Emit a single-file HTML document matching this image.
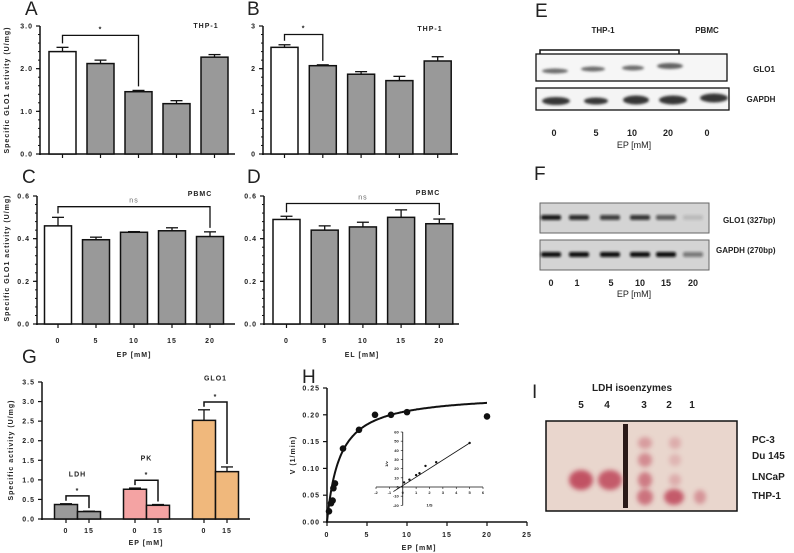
<!DOCTYPE html>
<html><head><meta charset="utf-8">
<style>
html,body{margin:0;padding:0;background:#fff;}
svg{display:block;font-family:"Liberation Sans",sans-serif;}
.t{font-size:7px;font-weight:bold;letter-spacing:1px;fill:#222;}
.pl{font-size:19px;fill:#222;}
.lb{font-size:8px;font-weight:bold;fill:#222;}
</style></head>
<body>
<svg id="fig" width="794" height="553" viewBox="0 0 794 553" xmlns="http://www.w3.org/2000/svg">
<defs>
<filter id="blur1" x="-30%" y="-50%" width="160%" height="200%"><feGaussianBlur stdDeviation="1.2"/></filter>
<filter id="blur2" x="-30%" y="-50%" width="160%" height="200%"><feGaussianBlur stdDeviation="2.5"/></filter>
</defs>
</svg>
<script>
// ---- data ----
const aValues=[2.4,2.12,1.46,1.18,2.27];
const aErrors=[0.1,0.08,0.03,0.07,0.06];
const bValues=[2.5,2.07,1.87,1.72,2.18];
const bErrors=[0.06,0.02,0.06,0.1,0.1];
const cValues=[0.46,0.395,0.43,0.437,0.41];
const cErrors=[0.04,0.012,0.003,0.014,0.022];
const dValues=[0.49,0.44,0.455,0.5,0.47];
const dErrors=[0.015,0.02,0.022,0.035,0.022];
const doseLabels=["0","5","10","15","20"];
const gGroups=["LDH","PK","GLO1"];
const gValues=[0.37,0.19,0.76,0.35,2.52,1.21];
const gErrors=[0.02,0.01,0.03,0.02,0.27,0.12];
const hX=[0.25,0.5,0.7,0.8,1,2,4,6,8,10,20];
const hY=[0.02,0.035,0.04,0.063,0.072,0.137,0.172,0.2,0.2,0.205,0.197];
const hFit=[0.24,1.6]; // Vmax, Km
const insetX=[0.1,0.5,1,1.25,1.7,2.5,5];
const insetY=[5,8,13,15,23,27,48];

const S=document.getElementById('fig');
const NS='http://www.w3.org/2000/svg';
function el(tag,at,parent){const e=document.createElementNS(NS,tag);for(const k in at)e.setAttribute(k,at[k]);(parent||S).appendChild(e);return e;}
function txt(x,y,s,cls,anchor,extra){const e=el('text',Object.assign({x:x,y:y,class:cls||'t','text-anchor':anchor||'middle'},extra||{}));e.textContent=s;return e;}
function lin(x1,y1,x2,y2,w,parent){return el('line',{x1,y1,x2,y2,stroke:'#111','stroke-width':w||1.5},parent);}

function barPanel(o){
  const g=el('g',{});
  
  
  const y=v=>o.y0-(v/o.max)*(o.y0-o.y1);
  lin(o.x0,o.y1,o.x0,o.y0+1,1.5,g);
  lin(o.x0-1,o.y0,o.xEnd,o.y0,1.5,g);
  o.ticks.forEach(t=>{lin(o.x0-4,y(t),o.x0,y(t),1.2,g);txt(o.x0-7,y(t)+2.5,o.tickFmt(t),'t','end');});
  for(let i=0;i<o.minor;i++){const v=o.max*i/o.minor;lin(o.x0-2,y(v),o.x0,y(v),1,g);}
  o.values.forEach((v,i)=>{
    const cx=o.cx0+i*o.step;
    const r=el('rect',{x:cx-13.5,y:y(v),width:27,height:o.y0-y(v),fill:i==0?'#fff':'#999',stroke:'#111','stroke-width':1.5},g);
    
    
    lin(cx,y(v),cx,y(v+o.errors[i]),1.3,g);
    lin(cx-6,y(v+o.errors[i]),cx+6,y(v+o.errors[i]),1.3,g);
    lin(cx,o.y0,cx,o.y0+4,1.2,g);
    if(o.xlabels) txt(cx,o.y0+19,o.xlabels[i]);
  });
  const b=o.bracket, bx1=o.cx0+b[0]*o.step, bx2=o.cx0+b[1]*o.step, by=y(b[2]);
  el('polyline',{points:`${bx1},${y(o.values[b[0]]+o.errors[b[0]])-4} ${bx1},${by} ${bx2},${by} ${bx2},${y(o.values[b[1]]+o.errors[b[1]])-4}`,fill:'none',stroke:'#111','stroke-width':1.3},g);
  txt((bx1+bx2)/2,by-4,b[3],'t','middle',{style:b[3]=='ns'?'font-weight:normal;fill:#666':''});
  txt(o.tagX,o.tagY,o.tag);
  return g;
}
barPanel({name:'panel-a',x0:40,xEnd:235,y0:154,y1:26,max:3,ticks:[0,1,2,3],tickFmt:t=>t.toFixed(1),minor:15,cx0:62.5,step:38,values:aValues,errors:aErrors,bracket:[0,2,2.78,'*'],tag:'THP-1',tagX:206,tagY:28});
barPanel({name:'panel-b',x0:263,xEnd:458,y0:154,y1:26,max:3,ticks:[0,1,2,3],tickFmt:t=>t.toFixed(0),minor:15,cx0:284.5,step:38.3,values:bValues,errors:bErrors,bracket:[0,1,2.8,'*'],tag:'THP-1',tagX:430,tagY:31});
barPanel({name:'panel-c',x0:37,xEnd:235,y0:324,y1:196,max:0.6,ticks:[0,0.2,0.4,0.6],tickFmt:t=>t.toFixed(1),minor:15,cx0:58,step:38,values:cValues,errors:cErrors,bracket:[0,4,0.55,'ns'],xlabels:doseLabels,tag:'PBMC',tagX:200,tagY:196});
barPanel({name:'panel-d',x0:264,xEnd:459,y0:324,y1:196,max:0.6,ticks:[0,0.2,0.4,0.6],tickFmt:t=>t.toFixed(1),minor:15,cx0:286.5,step:38.2,values:dValues,errors:dErrors,bracket:[0,4,0.565,'ns'],xlabels:doseLabels,tag:'PBMC',tagX:428,tagY:195});
txt(134,357,'EP [mM]');
txt(362,357,'EL [mM]');
txt(9,90,'Specific GLO1 activity (U/mg)','t','middle',{transform:'rotate(-90 9 90)'});
txt(9,258,'Specific GLO1 activity (U/mg)','t','middle',{transform:'rotate(-90 9 258)'});
[['A',25,15],['B',247,15],['C',22,183],['D',247,183],['G',22,363],['H',302,383],['E',535,17],['F',534,180],['I',532,398]].forEach(p=>txt(p[1],p[2],p[0],'pl','start'));

// ---- Panel G ----
(function(){
  const g=el('g',{});
  const x0=42,y0=519,y1=382,max=3.5;const y=v=>y0-(v/max)*(y0-y1);
  lin(x0,y1,x0,y0+1,1.5,g);lin(x0-1,y0,250,y0,1.5,g);
  for(let t=0;t<=3.5001;t+=0.5){lin(x0-4,y(t),x0,y(t),1.2,g);txt(x0-7,y(t)+2.5,t.toFixed(1),'t','end');}
  const cols=['#9a9a9a','#f4a3a3','#f0b87c'];const centers=[66,89,135,158,204,227];
  gValues.forEach((v,i)=>{const cx=centers[i];
    const r=el('rect',{x:cx-11.5,y:y(v),width:23,height:y0-y(v),fill:cols[Math.floor(i/2)],stroke:'#111','stroke-width':1.5},g);
    
    
    lin(cx,y(v),cx,y(v+gErrors[i]),1.3,g);lin(cx-6,y(v+gErrors[i]),cx+6,y(v+gErrors[i]),1.3,g);
    lin(cx,y0,cx,y0+4,1.2,g);txt(cx,y0+14,i%2?'15':'0');
  });
  const lblOff=[0.4,0.4,0.45];
  gGroups.forEach((n,k)=>{const a=centers[2*k],b=centers[2*k+1];const top=gValues[2*k]+gErrors[2*k];const by=y(top+0.2);
    el('polyline',{points:`${a},${y(top)-3} ${a},${by} ${b},${by} ${b},${y(gValues[2*k+1]+gErrors[2*k+1])-3}`,fill:'none',stroke:'#111','stroke-width':1.5},g);
    txt((a+b)/2,by-3,'*');txt((a+b)/2,y(top+lblOff[k]+0.3),n,'t');});
  txt(146,545,'EP [mM]');
  txt(13,450,'Specific activity (U/mg)','t','middle',{transform:'rotate(-90 13 450)'});
})();

// ---- Panel H ----
(function(){
  const g=el('g',{});
  const x0=327,x1=487,y0=522,y1=388;const X=v=>x0+v/20*(x1-x0),Y=v=>y0-v/0.25*(y0-y1);
  lin(x0,y1,x0,y0+1,1.5,g);lin(x0-1,y0,X(25),y0,1.5,g);
  for(let t=0;t<=0.2501;t+=0.05){lin(x0-4,Y(t),x0,Y(t),1.2,g);txt(x0-7,Y(t)+2.5,t.toFixed(2),'t','end');}
  for(let t=0;t<=25;t+=5){lin(X(t),y0,X(t),y0+4,1.2,g);txt(X(t),y0+15,String(t));}
  txt(419,550,'EP [mM]');
  txt(295,455,'V (1/min)','t','middle',{transform:'rotate(-90 295 455)'});
  let d='';for(let i=0;i<=200;i++){const v=i/10;const yy=hFit[0]*v/(hFit[1]+v);d+=(i?'L':'M')+X(v).toFixed(1)+','+Y(yy).toFixed(1);}
  el('path',{d:d,fill:'none',stroke:'#111','stroke-width':2},g);
  hX.forEach((v,i)=>{const c=el('circle',{cx:X(v),cy:Y(hY[i]),r:3.3,fill:'#111'},g);});
  // inset
  const ix=v=>376+(v+2)/8*(483-376), iy=v=>487-v/60*(487-432);
  lin(ix(0),iy(60),ix(0),iy(-20),0.8,g);lin(ix(-2),iy(0),ix(6),iy(0),0.8,g);
  for(let t=-20;t<=60;t+=10){lin(ix(0)-2,iy(t),ix(0),iy(t),0.6,g);txt(ix(0)-4,iy(t)+1.5,String(t),'t','end',{style:'font-size:4px;letter-spacing:0'});}
  for(let t=-2;t<=6;t++){lin(ix(t),iy(0),ix(t),iy(0)+2,0.6,g);txt(ix(t),iy(0)+7,String(t),'t','middle',{style:'font-size:4px;letter-spacing:0'});}
  txt(ix(2),iy(-20)+1,'1/S','t','middle',{style:'font-size:4px;letter-spacing:0'});
  txt(388,iy(25),'1/v','t','middle',{style:'font-size:4px;letter-spacing:0',transform:`rotate(-90 388 ${iy(25)})`});
  lin(ix(-0.7),iy(-5),ix(5),iy(48),0.8,g);
  insetX.forEach((v,i)=>el('circle',{cx:ix(v),cy:iy(insetY[i]),r:1.2,fill:'#111'},g));
})();

// ---- Panel E (western blot) ----
(function(){
  const g=el('g',{});
  txt(603,33,'THP-1','lb');txt(707,33,'PBMC','lb');
  el('polyline',{points:'540,55 540,50 679,50 679,55',fill:'none',stroke:'#111','stroke-width':1.5},g);
  el('rect',{x:536,y:54,width:191,height:27,fill:'#f6f6f6',stroke:'#111','stroke-width':1.3},g);
  el('rect',{x:536,y:88,width:193,height:22,fill:'#f4f4f4',stroke:'#111','stroke-width':1.3},g);
  [[555,71,26,2.5,0.7],[593,69,24,2.5,0.7],[633,68,22,2.5,0.7],[670,66,26,3,0.75]].forEach(b=>el('ellipse',{cx:b[0],cy:b[1],rx:b[2]/2,ry:b[3],fill:'#333',opacity:b[4],filter:'url(#blur1)'},g));
  [[556,101,28,4],[596,101,24,3.5],[636,100,26,4.5],[673,100,28,4.5],[714,98,28,4.5]].forEach(b=>el('ellipse',{cx:b[0],cy:b[1],rx:b[2]/2,ry:b[3],fill:'#222',opacity:0.9,filter:'url(#blur1)'},g));
  txt(764,72,'GLO1','lb');txt(761,102,'GAPDH','lb');
  [['0',554],['5',596],['10',632],['20',668],['0',707]].forEach(p=>txt(p[1],136,p[0],'lb','middle',{style:'font-size:9px'}));
  txt(634,148,'EP [mM]','lb','middle',{style:'font-size:9px;font-weight:normal'});
})();

// ---- Panel F (PCR gel) ----
(function(){
  const g=el('g',{});
  el('rect',{x:540,y:203,width:169,height:30,fill:'#d4d4d4',stroke:'#666','stroke-width':1},g);
  el('rect',{x:540,y:240,width:169,height:30,fill:'#d4d4d4',stroke:'#666','stroke-width':1},g);
  const xs=[551,579,610,640,666,693];const o1=[0.95,0.85,0.75,0.8,0.6,0.12];const o2=[1,1,1,1,1,0.45];
  xs.forEach((x,i)=>{el('rect',{x:x-10,y:215,width:20,height:5,rx:2,fill:'#111',opacity:o1[i],filter:'url(#blur1)'},g);el('rect',{x:x-10,y:252,width:20,height:5,rx:2,fill:'#111',opacity:o2[i],filter:'url(#blur1)'},g);});
  txt(723,223,'GLO1 (327bp)','lb','start');txt(716,253,'GAPDH (270bp)','lb','start');
  [['0',551],['1',577],['5',611],['10',640],['15',666],['20',693]].forEach(p=>txt(p[1],286,p[0],'lb','middle',{style:'font-size:9px'}));
  txt(634,297,'EP [mM]','lb','middle',{style:'font-size:9px;font-weight:normal'});
})();

// ---- Panel I (isoenzyme gel) ----
(function(){
  const g=el('g',{});
  txt(632,391,'LDH isoenzymes','lb','middle',{style:'font-size:10px'});
  [['5',581],['4',607],['3',644],['2',669],['1',692]].forEach(p=>txt(p[1],408,p[0],'lb','middle',{style:'font-size:10px'}));
  el('rect',{x:546,y:421,width:191,height:90,fill:'#e9d6cd',stroke:'#111','stroke-width':1.5},g);
  el('rect',{x:623,y:424,width:5,height:84,fill:'#2a1a18'},g);
  const bands=[[645,443,7,6,0.35],[675,443,6,6,0.25],[645,460,7,7,0.45],[675,460,6,6,0.2],[581,480,12,10,0.8],[610,480,12,10,0.75],[645,480,7,8,0.55],[675,480,6,6,0.25],[645,497,8,8,0.6],[674,497,10,8,0.75],[700,497,6,7,0.4]];
  bands.forEach(b=>el('ellipse',{cx:b[0],cy:b[1],rx:b[2],ry:b[3],fill:'#b8304a',opacity:b[4],filter:'url(#blur2)'},g));
  [['PC-3',443],['Du 145',459],['LNCaP',480],['THP-1',499]].forEach(p=>txt(752,p[1],p[0],'lb','start',{style:'font-size:10px'}));
})();
</script>
</body></html>
